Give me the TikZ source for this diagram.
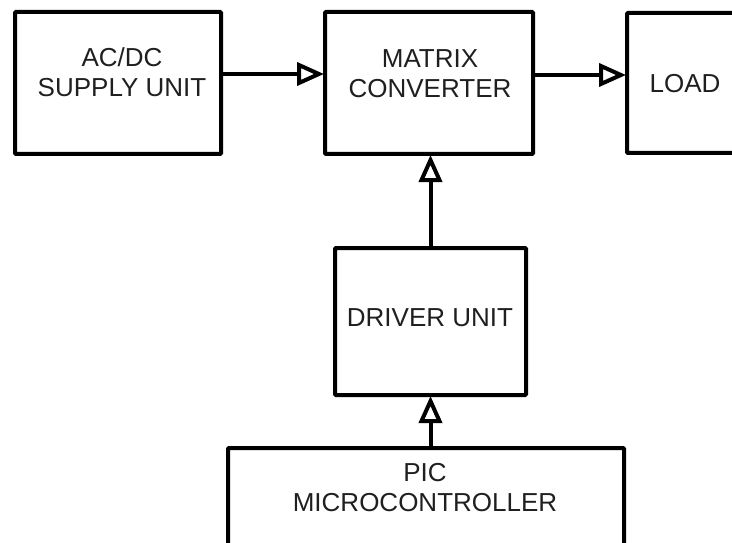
\documentclass[tikz,border=0pt]{standalone}
\usepackage{fontspec}
\setmainfont{Liberation Sans}
\usetikzlibrary{arrows.meta}
\begin{document}
\begin{tikzpicture}[x=1pt,y=-1pt,
                block/.style={draw, line width=4pt, rounded corners=1pt, inner sep=0pt, outer sep=1pt},
                caption/.style={align=center, font=\fontsize{26}{30}\selectfont, text=black!88},
                feed/.style={line width=4pt, -{Triangle[open,length=27pt,width=23pt]}}]
                \useasboundingbox (0,0) rectangle (732,543);
                \clip (0,0) rectangle (732,543);
                \node[block, minimum width=206pt, minimum height=142pt] (acdc) at (118,83) {};
                \node[block, minimum width=208pt, minimum height=142pt] (matrix) at (429,83) {};
                \node[block, minimum width=116pt, minimum height=140pt] (load) at (685,83) {};
                \node[block, minimum width=191pt, minimum height=147pt] (driver) at (430.5,321.5) {};
                \node[block, anchor=north, minimum width=396pt, minimum height=140pt] (pic) at (426,447) {};
                \node[caption] (acdctext) at (122,72) {AC/DC\\SUPPLY UNIT};
                \node[caption] (matrixtext) at (430,73.5) {MATRIX\\CONVERTER};
                \node[caption] (loadtext) at (685,84) {LOAD};
                \node[caption] (drivertext) at (430,317.5) {DRIVER UNIT};
                \node[caption] (pictext) at (425,488) {PIC\\MICROCONTROLLER};
                \draw[feed] ([yshift=9pt]acdc.east) -- ([yshift=9pt]matrix.west);
                \draw[feed] ([yshift=8pt]matrix.east) -- ([yshift=8pt]load.west);
                \draw[feed] (driver.north) -- (driver.north |- matrix.south);
                \draw[feed] (driver.south |- pic.north) -- (driver.south);
            \end{tikzpicture}
\end{document}
